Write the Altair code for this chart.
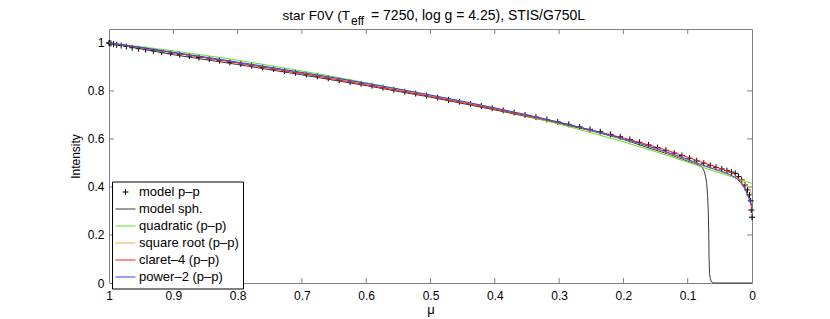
import altair as alt
import pandas as pd

# ---------------- data ----------------
series_names = ["model p–p", "model sph.", "quadratic (p–p)",
                "square root (p–p)", "claret–4 (p–p)", "power–2 (p–p)"]
series_colors = ["#000000", "#3a3a3a", "#66dd22", "#f0b030", "#ff1a1a", "#2244ff"]
series_widths = [1.0, 1.0, 2.0, 2.0, 2.0, 2.0]

pp_mu = [1.0, 0.999, 0.997, 0.993, 0.988, 0.981, 0.973, 0.964, 0.954, 0.943,
         0.931, 0.918, 0.904, 0.890, 0.875, 0.860, 0.844, 0.828, 0.812, 0.795,
         0.778, 0.761, 0.744, 0.727, 0.710, 0.693, 0.676, 0.659, 0.642, 0.625,
         0.608, 0.591, 0.574, 0.557, 0.540, 0.523, 0.506, 0.489, 0.472, 0.455,
         0.438, 0.421, 0.404, 0.387, 0.370, 0.353, 0.336, 0.319, 0.302, 0.285,
         0.268, 0.252, 0.236, 0.220, 0.205, 0.190, 0.175, 0.161, 0.147, 0.134,
         0.121, 0.109, 0.097, 0.086, 0.075, 0.065, 0.056, 0.047, 0.039, 0.032,
         0.026, 0.021, 0.016, 0.011, 0.007, 0.004, 0.002, 0.001, 0.0]
pp_I = [1.000, 0.999, 0.998, 0.995, 0.992, 0.989, 0.985, 0.980, 0.976, 0.972,
        0.967, 0.962, 0.957, 0.951, 0.945, 0.939, 0.933, 0.926, 0.919, 0.912,
        0.905, 0.898, 0.891, 0.883, 0.876, 0.868, 0.861, 0.853, 0.845, 0.837,
        0.830, 0.822, 0.814, 0.805, 0.797, 0.789, 0.781, 0.772, 0.763, 0.755,
        0.746, 0.737, 0.728, 0.719, 0.710, 0.700, 0.691, 0.681, 0.671, 0.661,
        0.650, 0.640, 0.630, 0.619, 0.609, 0.598, 0.586, 0.575, 0.564, 0.553,
        0.541, 0.531, 0.520, 0.509, 0.499, 0.490, 0.482, 0.475, 0.468, 0.462,
        0.457, 0.443, 0.429, 0.408, 0.388, 0.367, 0.342, 0.304, 0.274]

sph_mu = [1.0, 0.9, 0.8, 0.7, 0.6, 0.5, 0.4, 0.3, 0.25, 0.2, 0.16, 0.13, 0.1,
          0.09, 0.081, 0.077, 0.074, 0.072, 0.0705, 0.069, 0.068, 0.0672,
          0.0668, 0.066, 0.065, 0.0635, 0.062, 0.06, 0.0]
sph_I = [1.0, 0.951, 0.910, 0.867, 0.822, 0.774, 0.721, 0.665, 0.634, 0.598,
         0.562, 0.537, 0.508, 0.499, 0.490, 0.480, 0.464, 0.440, 0.415, 0.360,
         0.300, 0.200, 0.100, 0.040, 0.020, 0.008, 0.002, 0.0, 0.0]

fit_mu = [1.0, 0.95, 0.9, 0.85, 0.8, 0.75, 0.7, 0.65, 0.6, 0.55, 0.5, 0.45,
          0.4, 0.35, 0.3, 0.25, 0.2, 0.15, 0.1, 0.08, 0.06, 0.04, 0.03, 0.02,
          0.01, 0.005, 0.002, 0.0]
quad_I = [1.0, 0.984, 0.967, 0.948, 0.928, 0.906, 0.883, 0.859, 0.834, 0.808,
          0.781, 0.755, 0.726, 0.695, 0.662, 0.626, 0.588, 0.547, 0.503, 0.485,
          0.467, 0.450, 0.441, 0.432, 0.424, 0.419, 0.417, 0.415]
sqrt_I = [1.0, 0.980, 0.959, 0.939, 0.918, 0.897, 0.876, 0.854, 0.831, 0.807,
          0.782, 0.756, 0.729, 0.700, 0.669, 0.636, 0.600, 0.559, 0.512, 0.492,
          0.474, 0.455, 0.445, 0.432, 0.410, 0.394, 0.380, 0.362]
claret_I = [1.0, 0.980, 0.959, 0.938, 0.9165, 0.8945, 0.872, 0.8495, 0.826,
            0.802, 0.777, 0.751, 0.724, 0.6965, 0.668, 0.637, 0.604, 0.567,
            0.524, 0.505, 0.487, 0.468, 0.458, 0.432, 0.390, 0.355, 0.328, 0.305]
power2_I = [1.0, 0.981, 0.961, 0.941, 0.920, 0.899, 0.877, 0.855, 0.832, 0.808,
            0.783, 0.757, 0.729, 0.7005, 0.670, 0.637, 0.601, 0.561, 0.515,
            0.494, 0.476, 0.458, 0.445, 0.425, 0.385, 0.355, 0.335, 0.320]

x_ticks = [0.0, 0.1, 0.2, 0.3, 0.4, 0.5, 0.6, 0.7, 0.8, 0.9, 1.0]
y_ticks = [0.0, 0.2, 0.4, 0.6, 0.8, 1.0]

title_main = "star F0V (T"
title_sub = "eff"
title_rest = "= 7250, log g = 4.25), STIS/G750L"

# ---------------- tables ----------------
pp_df = pd.DataFrame({"mu": pp_mu, "I": pp_I, "series": series_names[0]})
sph_df = pd.DataFrame({"mu": sph_mu, "I": sph_I, "series": series_names[1]})
fit_df = pd.concat([
    pd.DataFrame({"mu": fit_mu, "I": vals, "series": name})
    for name, vals in zip(series_names[2:], [quad_I, sqrt_I, claret_I, power2_I])
], ignore_index=True)
xt_df = pd.DataFrame({"t": x_ticks[1:-1]})
yt_df = pd.DataFrame({"t": y_ticks[1:-1]})

W, H = 643, 254
GRAY = "#808080"
CROSS = "M-0.6,0L0.6,0M0,-0.6L0,0.6"
LINE = "M-2,0L2,0"

xscale = alt.Scale(domain=[0, 1], reverse=True, nice=False, zero=False)
yscale = alt.Scale(domain=[0, 1.058], nice=False, zero=False)

xaxis = alt.Axis(values=x_ticks, title="μ", domain=False, ticks=False, grid=False,
                 labelFlush=False, labelPadding=7, labelFontSize=12,
                 labelExpr="datum.value + ''",
                 labelColor="#000", titleFontSize=13, titleFontWeight="normal",
                 titleColor="#000", titlePadding=2, labelOverlap=False)
yaxis = alt.Axis(values=y_ticks, title="Intensity", domain=False, ticks=False,
                 grid=False, labelPadding=5, labelFontSize=12, labelColor="#000",
                 labelExpr="datum.value + ''",
                 titleFontSize=12, titleFontWeight="normal", titleColor="#000",
                 titlePadding=5, labelFlush=False, labelOverlap=False)

legend = alt.Legend(title=None, orient="none", legendX=3, legendY=152.5,
                    direction="vertical", strokeColor="#000", fillColor="#fff",
                    padding=4, labelFontSize=13, labelColor="#000",
                    symbolSize=100, rowPadding=3, labelOffset=7,
                    symbolOffset=3, cornerRadius=0, labelLimit=300)

color_enc = alt.Color("series:N", scale=alt.Scale(domain=series_names, range=series_colors),
                      legend=legend)
shape_enc = alt.Shape("series:N", scale=alt.Scale(domain=series_names,
                      range=[CROSS, LINE, LINE, LINE, LINE, LINE]), legend=legend)
sw_enc = alt.StrokeWidth("series:N", scale=alt.Scale(domain=series_names,
                         range=series_widths), legend=legend)

X = alt.X("mu:Q", scale=xscale, axis=xaxis)
Y = alt.Y("I:Q", scale=yscale, axis=yaxis)

points = alt.Chart(pp_df).mark_point(filled=False, size=100, opacity=1).encode(
    x=X, y=Y, color=color_enc, shape=shape_enc, strokeWidth=sw_enc)

sph_line = alt.Chart(sph_df).mark_line().encode(
    x=X, y=Y, color=color_enc, strokeWidth=sw_enc, order="idx:Q"
).transform_window(idx="row_number()")

fit_lines = alt.Chart(fit_df).mark_line(interpolate="monotone").encode(
    x=X, y=Y, color=color_enc, strokeWidth=sw_enc)

bottom_ticks = alt.Chart(xt_df).mark_rule(color=GRAY, strokeWidth=1).encode(
    x=alt.X("t:Q", scale=xscale), y=alt.value(H), y2=alt.value(H - 5))
top_ticks = alt.Chart(xt_df).mark_rule(color=GRAY, strokeWidth=1).encode(
    x=alt.X("t:Q", scale=xscale), y=alt.value(0), y2=alt.value(5))
left_ticks = alt.Chart(yt_df).mark_rule(color=GRAY, strokeWidth=1).encode(
    y=alt.Y("t:Q", scale=yscale), x=alt.value(0), x2=alt.value(5))
right_ticks = alt.Chart(yt_df).mark_rule(color=GRAY, strokeWidth=1).encode(
    y=alt.Y("t:Q", scale=yscale), x=alt.value(W), x2=alt.value(W - 5))

one = pd.DataFrame({"a": [0]})
t1 = alt.Chart(one).mark_text(align="right", baseline="alphabetic", fontSize=13.5,
                              color="#000").encode(
    x=alt.value(241), y=alt.value(-9), text=alt.value(title_main))
t2 = alt.Chart(one).mark_text(align="left", baseline="alphabetic", fontSize=12,
                              color="#000").encode(
    x=alt.value(242), y=alt.value(-4), text=alt.value(title_sub))
t3 = alt.Chart(one).mark_text(align="left", baseline="alphabetic", fontSize=14,
                              color="#000").encode(
    x=alt.value(262), y=alt.value(-9), text=alt.value(title_rest))

chart = alt.layer(
    bottom_ticks, top_ticks, left_ticks, right_ticks,
    points, sph_line, fit_lines, t1, t2, t3
).properties(
    width=W, height=H,
    padding={"left": 101, "top": 21, "right": 70, "bottom": 34},
    autosize=alt.AutoSizeParams(type="none"),
).configure(font="Liberation Sans").configure_view(
    stroke=GRAY, strokeWidth=1
)

chart.save("out.html", embed_options={"renderer": "svg", "actions": False})
